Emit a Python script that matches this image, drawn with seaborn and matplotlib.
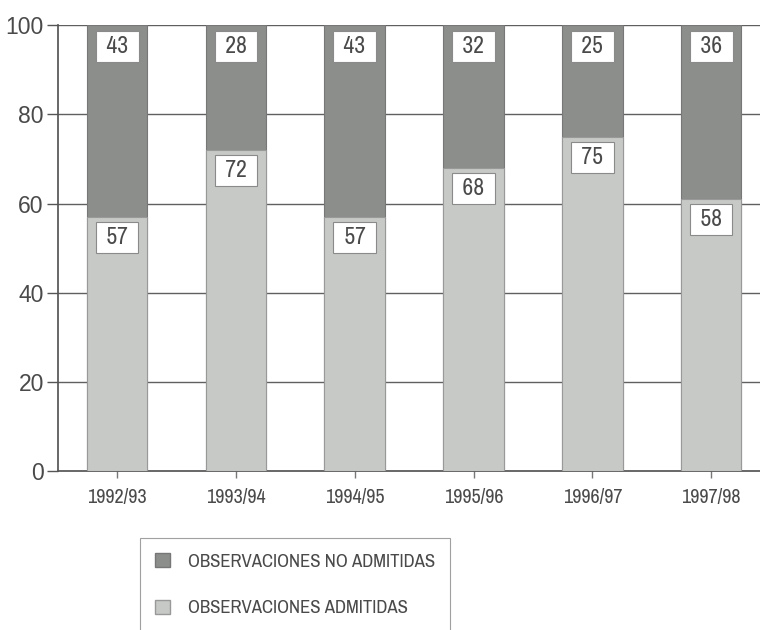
import matplotlib
matplotlib.use('Agg')
import matplotlib.pyplot as plt
from matplotlib import font_manager
import seaborn as sns
import pandas as pd
from matplotlib.patches import Patch

# Data
years = ['1992/93', '1993/94', '1994/95', '1995/96', '1996/97', '1997/98']
admitidas = [57, 72, 57, 68, 75, 58]            # printed labels
no_admitidas = [43, 28, 43, 32, 25, 36]         # printed labels
admitidas_height = [57, 72, 57, 68, 75, 61]     # drawn boundary as seen in the picture
total_height = [100, 100, 100, 100, 100, 100]

DARK = '#8c8e8c'
LIGHT = '#c6c9c6'
TXT = '#4a4a4a'

sns.set_theme(style='white')

# the original uses a condensed sans; use Liberation Sans Narrow when available
names = {f.name for f in font_manager.fontManager.ttflist}
if 'Liberation Sans Narrow' in names:
    narrow_face = 'Liberation Sans Narrow'
else:
    cands = sorted(n for n in names if 'Narrow' in n or 'Condensed' in n)
    narrow_face = cands[0] if cands else 'Liberation Sans'
plt.rcParams['font.family'] = [narrow_face, 'Liberation Sans', 'DejaVu Sans']

df = pd.DataFrame({'year': years, 'total': total_height, 'adm': admitidas_height})

fig = plt.figure(figsize=(7.6, 6.3), dpi=100)
ax = fig.add_axes([0.076, 0.252, 0.93, 0.708])

for y in [20, 40, 60, 80, 100]:
    ax.axhline(y, color='#606060', lw=1.0, zorder=0)

sns.barplot(data=df, x='year', y='total', color=DARK, width=0.51, saturation=1,
            edgecolor='#777777', linewidth=0.8, ax=ax, zorder=2)
sns.barplot(data=df, x='year', y='adm', color=LIGHT, width=0.51, saturation=1,
            edgecolor='#999999', linewidth=0.8, ax=ax, zorder=3)

box = dict(boxstyle='square,pad=0.22', facecolor='white', edgecolor='#8a8a8a', lw=0.8)
for i in range(len(years)):
    ax.text(i, total_height[i] - 4.8, f' {no_admitidas[i]} ', ha='center', va='center',
            fontsize=17, color=TXT, bbox=box, zorder=5)
    ax.text(i, admitidas_height[i] - 4.6, f' {admitidas[i]} ', ha='center', va='center',
            fontsize=17, color=TXT, bbox=box, zorder=5)

ax.set_xlim(-0.5, 5.45)
ax.set_ylim(0, 100)
ax.set_yticks([0, 20, 40, 60, 80, 100])
ax.set_xlabel('')
ax.set_ylabel('')
for s in ['top', 'right']:
    ax.spines[s].set_visible(False)
ax.spines['left'].set_color('#555555')
ax.spines['bottom'].set_color('#555555')
ax.tick_params(axis='y', length=8, width=1, color='#555555',
               labelcolor=TXT, left=True, pad=2)
ax.tick_params(axis='x', length=5, width=1, color='#777777', labelsize=14.5,
               labelcolor=TXT, bottom=True, pad=7)
for lab in ax.get_yticklabels():
    lab.set_fontfamily(['Liberation Sans', 'DejaVu Sans'])
    lab.set_fontsize(16.5)

handles = [Patch(facecolor=DARK, edgecolor='#777777', label='OBSERVACIONES NO ADMITIDAS'),
           Patch(facecolor=LIGHT, edgecolor='#999999', label='OBSERVACIONES ADMITIDAS')]
leg = fig.legend(handles=handles, loc='upper left', bbox_to_anchor=(0.184, 0.146),
                 frameon=True, fancybox=False, fontsize=13.5, labelcolor=TXT,
                 handlelength=0.8, handleheight=0.8, handletextpad=0.95,
                 labelspacing=1.6, borderpad=0.8, borderaxespad=0)
leg.get_frame().set_edgecolor('#888888')
leg.get_frame().set_linewidth(0.8)

plt.savefig('out.png', dpi=100)
plt.close()
